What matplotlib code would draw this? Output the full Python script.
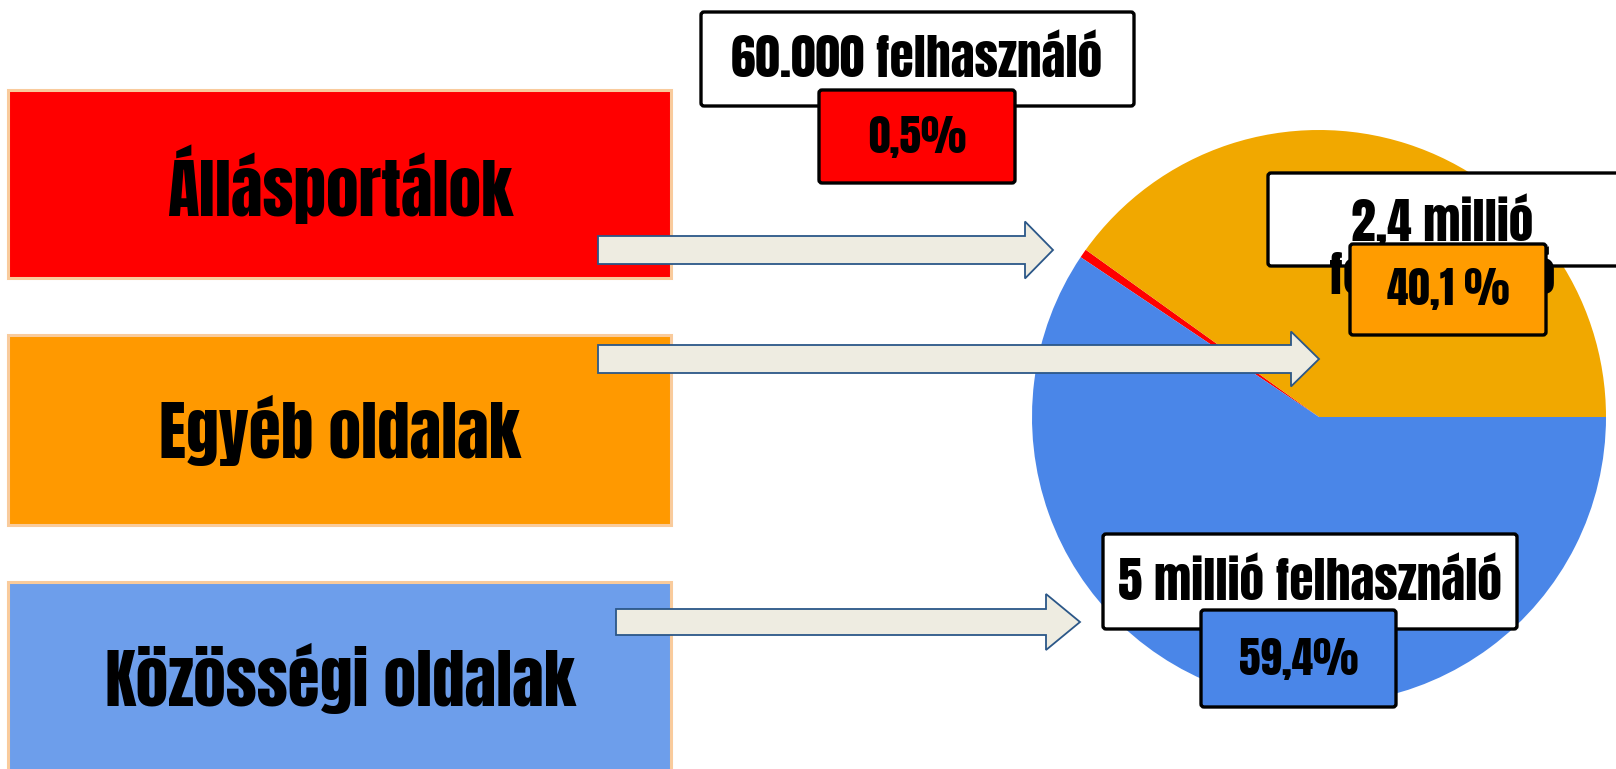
import matplotlib.pyplot as plt
import matplotlib.patches as mpatches

plt.rcParams["font.family"] = ["Anton", "Oswald", "Open Sans Condensed", "DejaVu Sans"]

# adatok
categories = ["Állásportálok", "Egyéb oldalak", "Közösségi oldalak"]
shares = [0.5, 40.1, 59.4]
user_labels = ["60.000 felhasználó", "2,4 millió\nfelhasználó", "5 millió felhasználó"]
pct_labels = ["0,5%", "40,1 %", "59,4%"]

box_colors = ["#FF0000", "#FF9900", "#6D9EEB"]
pie_colors = ["#FF0000", "#F1A800", "#4A86E8"]
tag_colors = ["#FF0000", "#FF9C00", "#4A86E8"]

W, H = 1616, 769
fig = plt.figure(figsize=(W / 100, H / 100), dpi=100)
ax = fig.add_axes([0, 0, 1, 1])

# ── kördiagram ──
ax.pie(shares, colors=pie_colors, center=(1319, 417), radius=287,
       startangle=-(shares[0] + shares[1]) * 3.6, counterclock=True, frame=True,
       wedgeprops=dict(linewidth=0))

# ── bal oldali dobozok ──
left_y = [(90, 278), (335, 525), (582, 775)]
for (y0, y1), name, col in zip(left_y, categories, box_colors):
    ax.add_patch(mpatches.Rectangle((8, y0), 663, y1 - y0, facecolor=col,
                                    edgecolor="#F9CB9C", linewidth=2.2, zorder=2))
    ax.text(340, (y0 + y1) / 2, name, ha="center", va="center",
            fontsize=47, color="black", zorder=3)

# ── nyilak ──
arrows = [(598, 1053, 250, 28, 57, 28), (598, 1319, 359, 28, 55, 28),
          (616, 1080, 622, 26, 56, 34)]
for x0, x1, y, bw, hw, hl in arrows:
    ax.add_patch(mpatches.FancyArrow(x0, y, x1 - x0, 0, width=bw, head_width=hw,
                                     head_length=hl, length_includes_head=True,
                                     facecolor="#EEECE1", edgecolor="#2B5788",
                                     linewidth=1.3, zorder=4))

# ── címkék ──
user_boxes = [(701, 12, 433, 94), (1268, 173, 400, 93), (1103, 534, 414, 95)]
user_text_pos = [(917, 59), (1442, 247), (1310, 582)]
pct_boxes = [(819, 90, 196, 93), (1350, 244, 196, 91), (1201, 610, 195, 97)]

for i in range(3):
    x, y, w, h = user_boxes[i]
    ax.add_patch(mpatches.FancyBboxPatch((x, y), w, h, boxstyle="round,pad=0,rounding_size=3",
                                         facecolor="white", edgecolor="black",
                                         linewidth=2.4, zorder=5))
    tx, ty = user_text_pos[i]
    ax.text(tx, ty, user_labels[i], ha="center", va="center", fontsize=35.5,
            linespacing=1.12, zorder=6)
    x, y, w, h = pct_boxes[i]
    ax.add_patch(mpatches.FancyBboxPatch((x, y), w, h, boxstyle="round,pad=0,rounding_size=3",
                                         facecolor=tag_colors[i], edgecolor="black",
                                         linewidth=2.4, zorder=7))
    ax.text(x + w / 2, y + h / 2, pct_labels[i], ha="center", va="center",
            fontsize=31, zorder=8)

ax.set_xlim(0, W)
ax.set_ylim(H, 0)
ax.set_aspect("equal")
ax.axis("off")

fig.savefig("out.png", dpi=100)
